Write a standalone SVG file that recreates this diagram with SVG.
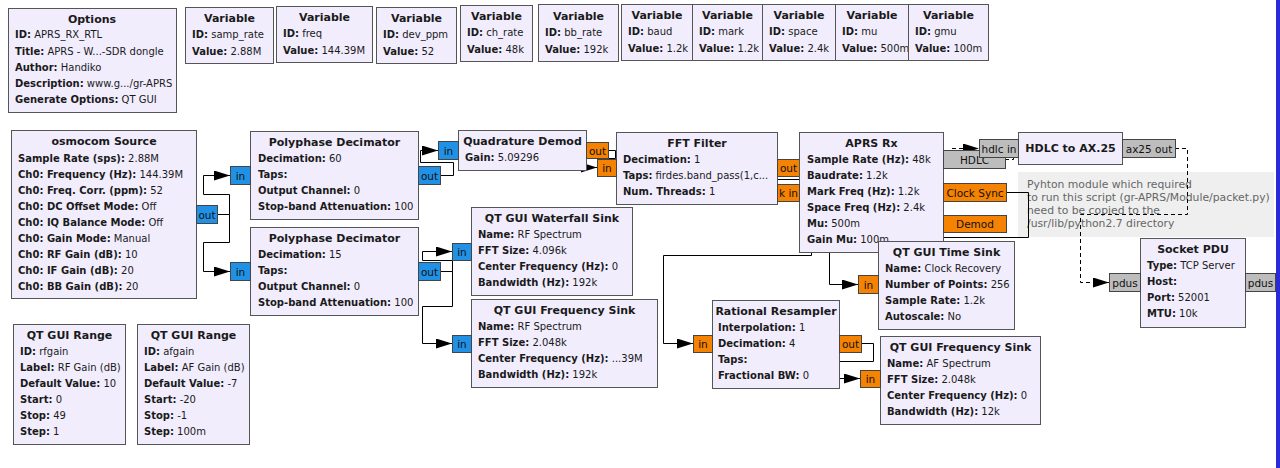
<svg xmlns="http://www.w3.org/2000/svg" width="1280" height="468" viewBox="0 0 1280 468">
<style>
.blk{fill:#f1edfd;stroke:#555;stroke-width:1}
.t{font-family:"DejaVu Sans",sans-serif;font-size:10px;fill:#1a1a1a}
.tt{font-weight:bold;text-anchor:middle;font-size:11px}
.k{font-weight:bold}
.pb{fill:#2191e6;stroke:#444;stroke-width:1}
.po{fill:#f58200;stroke:#444;stroke-width:1}
.pg{fill:#bdbdbd;stroke:#444;stroke-width:1}
.pl{font-family:"DejaVu Sans",sans-serif;font-size:10.5px;fill:#111;text-anchor:middle}
.c{fill:none;stroke:#000;stroke-width:1}
.d{fill:none;stroke:#000;stroke-width:1;stroke-dasharray:4,3}
.cm{font-family:"DejaVu Sans",sans-serif;font-size:10.8px;fill:#666}
</style>
<defs>
<marker id="arr" markerUnits="userSpaceOnUse" markerWidth="16" markerHeight="10" refX="16" refY="5" orient="auto"><path d="M0,0 L16,5 L0,10 z" fill="#000" stroke="none"/></marker>
</defs>
<rect width="1280" height="468" fill="#fff"/>
<rect x="1276" y="0" width="4" height="468" fill="#2a2ad8"/>

<g id="comment">
<rect x="1018" y="172" width="256" height="65" fill="#efefef"/>
<text class="cm" x="1027" y="188">Pyhton module which required</text>
<text class="cm" x="1027" y="201">to run this script (gr-APRS/Module/packet.py)</text>
<text class="cm" x="1027" y="214">need to be copied to the</text>
<text class="cm" x="1027" y="227">/usr/lib/python2.7 directory</text>
</g>

<g id="connections">
<path class="c" d="M217,214.5 H229.5 V194.5 H203.5 V175.5 H230" marker-end="url(#arr)"/>
<path class="c" d="M217,214.5 H229.5 V242.5 H203.5 V271.5 H230" marker-end="url(#arr)"/>
<path class="c" d="M440,175.5 H453.5 V162.5 H420.5 V150.5 H438" marker-end="url(#arr)"/>
<path class="c" d="M440,271.5 H452.5 V260.5 H422.5 V251.5 H452" marker-end="url(#arr)"/>
<path class="c" d="M440,271.5 H452.5 V306.5 H422.5 V343.5 H452" marker-end="url(#arr)"/>
<path class="c" d="M608,150.5 H615.5 V158.5 H578.5 V167.5 H597" marker-end="url(#arr)"/>
<path class="c" d="M799,167.5 H811.5 V179.5 H769.5 V192.5 H777" marker-end="url(#arr)"/>
<path class="c" d="M799,167.5 H811.5 V255.5 H663.5 V343.5 H693" marker-end="url(#arr)"/>
<path class="c" d="M1006,192.5 H1028.5 V237.5 H829.5 V284.5 H858" marker-end="url(#arr)"/>
<path class="c" d="M861,343.5 H873.5 V361.5 H830.5 V378.5 H860" marker-end="url(#arr)"/>
<path class="d" d="M1005,159.5 H1013.5 V153.5 H950.5 V148.5 H979" marker-end="url(#arr)"/>
<path class="d" d="M1175,148.5 H1187.5 V214.5 H1080.5 V282.5 H1109" marker-end="url(#arr)"/>
</g>

<g id="options">
<rect class="blk" x="8.5" y="8.5" width="168" height="104"/>
<text class="t tt" x="92" y="23">Options</text>
<text class="t" x="15" y="38"><tspan class="k">ID:</tspan> APRS_RX_RTL</text>
<text class="t" x="15" y="54.5"><tspan class="k">Title:</tspan> APRS - W...-SDR dongle</text>
<text class="t" x="15" y="71"><tspan class="k">Author:</tspan> Handiko</text>
<text class="t" x="15" y="87"><tspan class="k">Description:</tspan> www.g.../gr-APRS</text>
<text class="t" x="15" y="103"><tspan class="k">Generate Options:</tspan> QT GUI</text>
</g>

<g id="var_samp_rate">
<rect class="blk" x="185.5" y="7.5" width="88" height="56"/>
<text class="t tt" x="229.5" y="22">Variable</text>
<text class="t" x="192" y="38"><tspan class="k">ID:</tspan> samp_rate</text>
<text class="t" x="192" y="55"><tspan class="k">Value:</tspan> 2.88M</text>
</g>
<g id="var_freq">
<rect class="blk" x="276.5" y="6.5" width="96" height="56"/>
<text class="t tt" x="324.5" y="21">Variable</text>
<text class="t" x="283" y="37"><tspan class="k">ID:</tspan> freq</text>
<text class="t" x="283" y="54"><tspan class="k">Value:</tspan> 144.39M</text>
</g>
<g id="var_dev_ppm">
<rect class="blk" x="376.5" y="7.5" width="80" height="56"/>
<text class="t tt" x="416.5" y="22">Variable</text>
<text class="t" x="383" y="38"><tspan class="k">ID:</tspan> dev_ppm</text>
<text class="t" x="383" y="55"><tspan class="k">Value:</tspan> 52</text>
</g>
<g id="var_ch_rate">
<rect class="blk" x="460.5" y="5.5" width="72" height="56"/>
<text class="t tt" x="496.5" y="20">Variable</text>
<text class="t" x="467" y="36"><tspan class="k">ID:</tspan> ch_rate</text>
<text class="t" x="467" y="53"><tspan class="k">Value:</tspan> 48k</text>
</g>
<g id="var_bb_rate">
<rect class="blk" x="538.5" y="4.5" width="80" height="57"/>
<text class="t tt" x="578.5" y="20">Variable</text>
<text class="t" x="545" y="36"><tspan class="k">ID:</tspan> bb_rate</text>
<text class="t" x="545" y="53"><tspan class="k">Value:</tspan> 192k</text>
</g>
<g id="var_baud">
<rect class="blk" x="621.5" y="4.5" width="71" height="56"/>
<text class="t tt" x="657" y="19">Variable</text>
<text class="t" x="628" y="35"><tspan class="k">ID:</tspan> baud</text>
<text class="t" x="628" y="52"><tspan class="k">Value:</tspan> 1.2k</text>
</g>
<g id="var_mark">
<rect class="blk" x="692.5" y="4.5" width="70" height="56"/>
<text class="t tt" x="727.5" y="19">Variable</text>
<text class="t" x="699" y="35"><tspan class="k">ID:</tspan> mark</text>
<text class="t" x="699" y="52"><tspan class="k">Value:</tspan> 1.2k</text>
</g>
<g id="var_space">
<rect class="blk" x="762.5" y="4.5" width="73" height="56"/>
<text class="t tt" x="799" y="19">Variable</text>
<text class="t" x="769" y="35"><tspan class="k">ID:</tspan> space</text>
<text class="t" x="769" y="52"><tspan class="k">Value:</tspan> 2.4k</text>
</g>
<g id="var_mu">
<rect class="blk" x="835.5" y="4.5" width="73" height="56"/>
<text class="t tt" x="872" y="19">Variable</text>
<text class="t" x="842" y="35"><tspan class="k">ID:</tspan> mu</text>
<text class="t" x="842" y="52"><tspan class="k">Value:</tspan> 500m</text>
</g>
<g id="var_gmu">
<rect class="blk" x="908.5" y="4.5" width="80" height="56"/>
<text class="t tt" x="948.5" y="19">Variable</text>
<text class="t" x="915" y="35"><tspan class="k">ID:</tspan> gmu</text>
<text class="t" x="915" y="52"><tspan class="k">Value:</tspan> 100m</text>
</g>

<g id="osmocom_source">
<rect class="blk" x="11.5" y="130.5" width="185" height="168"/>
<text class="t tt" x="104" y="145">osmocom Source</text>
<text class="t" x="18" y="162"><tspan class="k">Sample Rate (sps):</tspan> 2.88M</text>
<text class="t" x="18" y="178"><tspan class="k">Ch0: Frequency (Hz):</tspan> 144.39M</text>
<text class="t" x="18" y="194"><tspan class="k">Ch0: Freq. Corr. (ppm):</tspan> 52</text>
<text class="t" x="18" y="210"><tspan class="k">Ch0: DC Offset Mode:</tspan> Off</text>
<text class="t" x="18" y="226"><tspan class="k">Ch0: IQ Balance Mode:</tspan> Off</text>
<text class="t" x="18" y="242"><tspan class="k">Ch0: Gain Mode:</tspan> Manual</text>
<text class="t" x="18" y="258"><tspan class="k">Ch0: RF Gain (dB):</tspan> 10</text>
<text class="t" x="18" y="274"><tspan class="k">Ch0: IF Gain (dB):</tspan> 20</text>
<text class="t" x="18" y="290"><tspan class="k">Ch0: BB Gain (dB):</tspan> 20</text>
<rect class="pb" x="196.5" y="205.5" width="21" height="18"/>
<text class="pl" x="207" y="218.5">out</text>
</g>

<g id="decimator_1">
<rect class="blk" x="250.5" y="131.5" width="168" height="88"/>
<text class="t tt" x="334.5" y="146">Polyphase Decimator</text>
<text class="t" x="258" y="162"><tspan class="k">Decimation:</tspan> 60</text>
<text class="t" x="258" y="178"><tspan class="k">Taps:</tspan></text>
<text class="t" x="258" y="194"><tspan class="k">Output Channel:</tspan> 0</text>
<text class="t" x="258" y="210"><tspan class="k">Stop-band Attenuation:</tspan> 100</text>
<rect class="pb" x="230.5" y="166.5" width="20" height="18"/>
<text class="pl" x="240.5" y="179.5">in</text>
<rect class="pb" x="418.5" y="166.5" width="22" height="18"/>
<text class="pl" x="429.5" y="179.5">out</text>
</g>

<g id="decimator_2">
<rect class="blk" x="250.5" y="227.5" width="168" height="88"/>
<text class="t tt" x="334.5" y="242">Polyphase Decimator</text>
<text class="t" x="258" y="258"><tspan class="k">Decimation:</tspan> 15</text>
<text class="t" x="258" y="274"><tspan class="k">Taps:</tspan></text>
<text class="t" x="258" y="290"><tspan class="k">Output Channel:</tspan> 0</text>
<text class="t" x="258" y="306"><tspan class="k">Stop-band Attenuation:</tspan> 100</text>
<rect class="pb" x="230.5" y="262.5" width="20" height="18"/>
<text class="pl" x="240.5" y="275.5">in</text>
<rect class="pb" x="418.5" y="262.5" width="22" height="18"/>
<text class="pl" x="429.5" y="275.5">out</text>
</g>

<g id="quad_demod">
<rect class="blk" x="458.5" y="130.5" width="128" height="40"/>
<text class="t tt" x="522.5" y="145">Quadrature Demod</text>
<text class="t" x="465" y="161"><tspan class="k">Gain:</tspan> 5.09296</text>
<rect class="pb" x="438.5" y="141.5" width="20" height="18"/>
<text class="pl" x="448.5" y="154.5">in</text>
<rect class="po" x="586.5" y="142.5" width="22" height="16"/>
<text class="pl" x="597.5" y="154.5">out</text>
</g>

<g id="fft_filter">
<rect class="blk" x="616.5" y="132.5" width="161" height="72"/>
<text class="t tt" x="697" y="147">FFT Filter</text>
<text class="t" x="623" y="163"><tspan class="k">Decimation:</tspan> 1</text>
<text class="t" x="623" y="179"><tspan class="k">Taps:</tspan> firdes.band_pass(1,c...</text>
<text class="t" x="623" y="195"><tspan class="k">Num. Threads:</tspan> 1</text>
<rect class="po" x="597.5" y="159.5" width="19" height="17"/>
<text class="pl" x="607" y="172">in</text>
<rect class="po" x="777.5" y="159.5" width="22" height="17"/>
<text class="pl" x="788.5" y="172">out</text>
</g>

<g id="aprs_rx">
<rect class="blk" x="799.5" y="132.5" width="144" height="120"/>
<text class="t tt" x="871.5" y="147">APRS Rx</text>
<text class="t" x="807" y="163"><tspan class="k">Sample Rate (Hz):</tspan> 48k</text>
<text class="t" x="807" y="179"><tspan class="k">Baudrate:</tspan> 1.2k</text>
<text class="t" x="807" y="195"><tspan class="k">Mark Freq (Hz):</tspan> 1.2k</text>
<text class="t" x="807" y="211"><tspan class="k">Space Freq (Hz):</tspan> 2.4k</text>
<text class="t" x="807" y="227"><tspan class="k">Mu:</tspan> 500m</text>
<text class="t" x="807" y="243"><tspan class="k">Gain Mu:</tspan> 100m</text>
<rect class="po" x="777.5" y="184.5" width="22" height="17"/>
<text class="pl" x="788.5" y="197">k in</text>
<rect class="pg" x="943.5" y="150.5" width="62" height="18"/>
<text class="pl" x="974.5" y="164">HDLC</text>
<rect class="po" x="943.5" y="183.5" width="63" height="18"/>
<text class="pl" x="975" y="196.5">Clock Sync</text>
<rect class="po" x="943.5" y="215.5" width="63" height="17"/>
<text class="pl" x="975" y="228">Demod</text>
</g>

<g id="hdlc_to_ax25">
<rect class="blk" x="1018.5" y="132.5" width="104" height="32"/>
<text class="t tt" x="1070.5" y="152">HDLC to AX.25</text>
<rect class="pg" x="979.5" y="139.5" width="39" height="18"/>
<text class="pl" x="999" y="152.5">hdlc in</text>
<rect class="pg" x="1122.5" y="139.5" width="53" height="18"/>
<text class="pl" x="1149" y="152.5">ax25 out</text>
</g>

<g id="socket_pdu">
<rect class="blk" x="1140.5" y="238.5" width="105" height="89"/>
<text class="t tt" x="1193" y="253">Socket PDU</text>
<text class="t" x="1147" y="269"><tspan class="k">Type:</tspan> TCP Server</text>
<text class="t" x="1147" y="285"><tspan class="k">Host:</tspan></text>
<text class="t" x="1147" y="301"><tspan class="k">Port:</tspan> 52001</text>
<text class="t" x="1147" y="317"><tspan class="k">MTU:</tspan> 10k</text>
<rect class="pg" x="1109.5" y="273.5" width="31" height="18"/>
<text class="pl" x="1125" y="286.5">pdus</text>
<rect class="pg" x="1245.5" y="273.5" width="30" height="18"/>
<text class="pl" x="1260.5" y="286.5">pdus</text>
</g>

<g id="waterfall_sink">
<rect class="blk" x="471.5" y="207.5" width="161" height="88"/>
<text class="t tt" x="552" y="222">QT GUI Waterfall Sink</text>
<text class="t" x="478" y="238"><tspan class="k">Name:</tspan> RF Spectrum</text>
<text class="t" x="478" y="254"><tspan class="k">FFT Size:</tspan> 4.096k</text>
<text class="t" x="478" y="270"><tspan class="k">Center Frequency (Hz):</tspan> 0</text>
<text class="t" x="478" y="286"><tspan class="k">Bandwidth (Hz):</tspan> 192k</text>
<rect class="pb" x="452.5" y="243.5" width="19" height="17"/>
<text class="pl" x="462" y="256">in</text>
</g>

<g id="rf_freq_sink">
<rect class="blk" x="471.5" y="299.5" width="186" height="88"/>
<text class="t tt" x="564.5" y="314">QT GUI Frequency Sink</text>
<text class="t" x="478" y="330"><tspan class="k">Name:</tspan> RF Spectrum</text>
<text class="t" x="478" y="346"><tspan class="k">FFT Size:</tspan> 2.048k</text>
<text class="t" x="478" y="362"><tspan class="k">Center Frequency (Hz):</tspan> ...39M</text>
<text class="t" x="478" y="378"><tspan class="k">Bandwidth (Hz):</tspan> 192k</text>
<rect class="pb" x="452.5" y="335.5" width="19" height="17"/>
<text class="pl" x="462" y="348">in</text>
</g>

<g id="time_sink">
<rect class="blk" x="878.5" y="241.5" width="136" height="88"/>
<text class="t tt" x="946.5" y="256">QT GUI Time Sink</text>
<text class="t" x="885" y="272"><tspan class="k">Name:</tspan> Clock Recovery</text>
<text class="t" x="885" y="288"><tspan class="k">Number of Points:</tspan> 256</text>
<text class="t" x="885" y="304"><tspan class="k">Sample Rate:</tspan> 1.2k</text>
<text class="t" x="885" y="320"><tspan class="k">Autoscale:</tspan> No</text>
<rect class="po" x="858.5" y="275.5" width="20" height="18"/>
<text class="pl" x="868.5" y="288.5">in</text>
</g>

<g id="rational_resampler">
<rect class="blk" x="712.5" y="300.5" width="127" height="88"/>
<text class="t tt" x="776" y="315">Rational Resampler</text>
<text class="t" x="718" y="331"><tspan class="k">Interpolation:</tspan> 1</text>
<text class="t" x="718" y="347"><tspan class="k">Decimation:</tspan> 4</text>
<text class="t" x="718" y="363"><tspan class="k">Taps:</tspan></text>
<text class="t" x="718" y="379"><tspan class="k">Fractional BW:</tspan> 0</text>
<rect class="po" x="693.5" y="335.5" width="19" height="17"/>
<text class="pl" x="703" y="348">in</text>
<rect class="po" x="839.5" y="335.5" width="22" height="17"/>
<text class="pl" x="850.5" y="348">out</text>
</g>

<g id="af_freq_sink">
<rect class="blk" x="880.5" y="336.5" width="160" height="88"/>
<text class="t tt" x="960.5" y="351">QT GUI Frequency Sink</text>
<text class="t" x="887" y="367"><tspan class="k">Name:</tspan> AF Spectrum</text>
<text class="t" x="887" y="383"><tspan class="k">FFT Size:</tspan> 2.048k</text>
<text class="t" x="887" y="399"><tspan class="k">Center Frequency (Hz):</tspan> 0</text>
<text class="t" x="887" y="415"><tspan class="k">Bandwidth (Hz):</tspan> 12k</text>
<rect class="po" x="860.5" y="370.5" width="20" height="17"/>
<text class="pl" x="870.5" y="383">in</text>
</g>

<g id="range_rfgain">
<rect class="blk" x="13.5" y="324.5" width="112" height="120"/>
<text class="t tt" x="69.5" y="339">QT GUI Range</text>
<text class="t" x="20" y="355"><tspan class="k">ID:</tspan> rfgain</text>
<text class="t" x="20" y="371"><tspan class="k">Label:</tspan> RF Gain (dB)</text>
<text class="t" x="20" y="387"><tspan class="k">Default Value:</tspan> 10</text>
<text class="t" x="20" y="403"><tspan class="k">Start:</tspan> 0</text>
<text class="t" x="20" y="419"><tspan class="k">Stop:</tspan> 49</text>
<text class="t" x="20" y="435"><tspan class="k">Step:</tspan> 1</text>
</g>

<g id="range_afgain">
<rect class="blk" x="137.5" y="324.5" width="112" height="120"/>
<text class="t tt" x="193.5" y="339">QT GUI Range</text>
<text class="t" x="144" y="355"><tspan class="k">ID:</tspan> afgain</text>
<text class="t" x="144" y="371"><tspan class="k">Label:</tspan> AF Gain (dB)</text>
<text class="t" x="144" y="387"><tspan class="k">Default Value:</tspan> -7</text>
<text class="t" x="144" y="403"><tspan class="k">Start:</tspan> -20</text>
<text class="t" x="144" y="419"><tspan class="k">Stop:</tspan> -1</text>
<text class="t" x="144" y="435"><tspan class="k">Step:</tspan> 100m</text>
</g>
</svg>
